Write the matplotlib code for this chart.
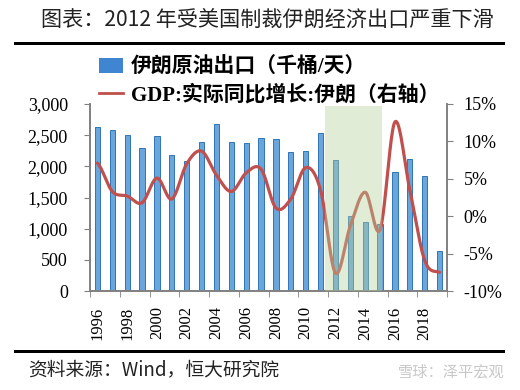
import matplotlib
matplotlib.use("Agg")
import matplotlib.pyplot as plt
from matplotlib.patches import Patch, Rectangle
from matplotlib.lines import Line2D
import numpy as np

# data
years = list(range(1996, 2020))
oil_export = [2630, 2585, 2505, 2295, 2490, 2185, 2085, 2390, 2680, 2390,
              2375, 2455, 2440, 2230, 2245, 2535, 2100, 1205, 1105, 1075,
              1910, 2120, 1845, 640]
gdp_growth = [7.1, 3.3, 2.7, 1.8, 5.1, 2.3, 7.0, 8.7, 5.5, 3.3,
              5.8, 6.3, 1.1, 2.3, 6.5, 3.5, -7.6, -1.3, 3.2, -1.8,
              12.6, 3.5, -5.9, -7.5]
tick_years = [str(y) if y % 2 == 0 else "" for y in years]

BLUE = "#6aa5dc"
RED = "#c0504d"
GRAY = "#808080"
SERIF = ["Liberation Serif", "Noto Sans CJK SC"]
CJK = ["Noto Sans CJK SC", "DejaVu Sans"]


def smooth(y, n=24):
    # Catmull-Rom like Excel's smoothed line
    y = np.asarray(y, float)
    p = np.concatenate([[y[0]], y, [y[-1]]])
    xs, ys = [], []
    t = np.linspace(0, 1, n, endpoint=False)
    for i in range(len(y) - 1):
        p0, p1, p2, p3 = p[i], p[i + 1], p[i + 2], p[i + 3]
        v = 0.5 * ((2 * p1) + (-p0 + p2) * t + (2 * p0 - 5 * p1 + 4 * p2 - p3) * t ** 2
                   + (-p0 + 3 * p1 - 3 * p2 + p3) * t ** 3)
        xs.extend(i + t)
        ys.extend(v)
    xs.append(len(y) - 1)
    ys.append(y[-1])
    return np.array(xs), np.array(ys)


fig = plt.figure(figsize=(5.2, 3.9), dpi=100)
ax = fig.add_axes([90 / 520, 1 - 291 / 390, 357 / 520, 187 / 390])
ax2 = ax.twinx()

x = np.arange(len(years))
ax.bar(x, oil_export, width=0.36, color=BLUE, edgecolor="#2e75b6", linewidth=0.7, zorder=2)
sx, sy = smooth(gdp_growth)
ax2.plot(sx, sy, color=RED, lw=2.3, zorder=3, solid_capstyle="round")

# sanctions period shading
ax2.axvspan(15.3, 19.1, ymin=0, ymax=0.99, color="#b5d19a", alpha=0.4, lw=0, zorder=4)

ax.set_xlim(-0.5, len(years) - 0.5)
ax.set_ylim(0, 3000)
ax.set_yticks(range(0, 3001, 500))
ax.set_yticklabels([f"{v:,}" for v in range(0, 3001, 500)], family=SERIF, fontsize=13)
ax2.set_ylim(-10, 15)
ax2.set_yticks(range(-10, 16, 5))
ax2.set_yticklabels([f"{v}%" for v in range(-10, 16, 5)], family=SERIF, fontsize=13)

ax.set_xticks(x)
ax.set_xticklabels(tick_years, rotation=90, family=SERIF, fontsize=12)
ax.set_xticks(np.arange(-0.5, len(years), 2), minor=True)
ax.tick_params(axis="x", which="major", length=0, pad=11)
ax.tick_params(axis="x", which="minor", length=4, color=GRAY, direction="out")
ax.tick_params(axis="y", length=4, color=GRAY, direction="out", pad=12)
ax2.tick_params(axis="y", length=4, color=GRAY, direction="out", pad=8)

for a in (ax, ax2):
    a.spines["top"].set_visible(False)
    for s in ("left", "right", "bottom"):
        a.spines[s].set_color(GRAY)
        a.spines[s].set_linewidth(1.2)
ax.patch.set_visible(False)

# legend
handles = [Patch(facecolor="#3f85d2", edgecolor="none"),
           Line2D([0], [0], color=RED, lw=2)]
labels = ["伊朗原油出口（千桶/天）", "GDP:实际同比增长:伊朗（右轴）"]
fig.legend(handles, labels, loc="upper left", bbox_to_anchor=(99 / 520, 1 - 58 / 390),
           frameon=False, borderpad=0, borderaxespad=0,
           handlelength=1.15, handleheight=0.75, handletextpad=0.4,
           labelspacing=0.3, prop={"family": SERIF, "weight": "bold", "size": 15})

# title and source
fig.text(267 / 520, 1 - 20 / 390, "图表：2012 年受美国制裁伊朗经济出口严重下滑",
         ha="center", va="center", family=CJK, fontsize=15.2, color="#222222")
fig.add_artist(Rectangle((14 / 520, 1 - 45 / 390), 491 / 520, 3 / 390,
                         transform=fig.transFigure, color="black", lw=0))
fig.add_artist(Rectangle((14 / 520, 1 - 353 / 390), 491 / 520, 3 / 390,
                         transform=fig.transFigure, color="black", lw=0))
fig.text(28 / 520, 1 - 370 / 390, "资料来源：Wind，恒大研究院", ha="left", va="center",
         family=CJK, fontsize=13.5, style="italic", color="#222222")
fig.text(505 / 520, 1 - 372 / 390, "雪球：泽平宏观", ha="right", va="center",
         family=CJK, fontsize=11, color="#c8c8c8")

fig.savefig("out.png", dpi=100)
